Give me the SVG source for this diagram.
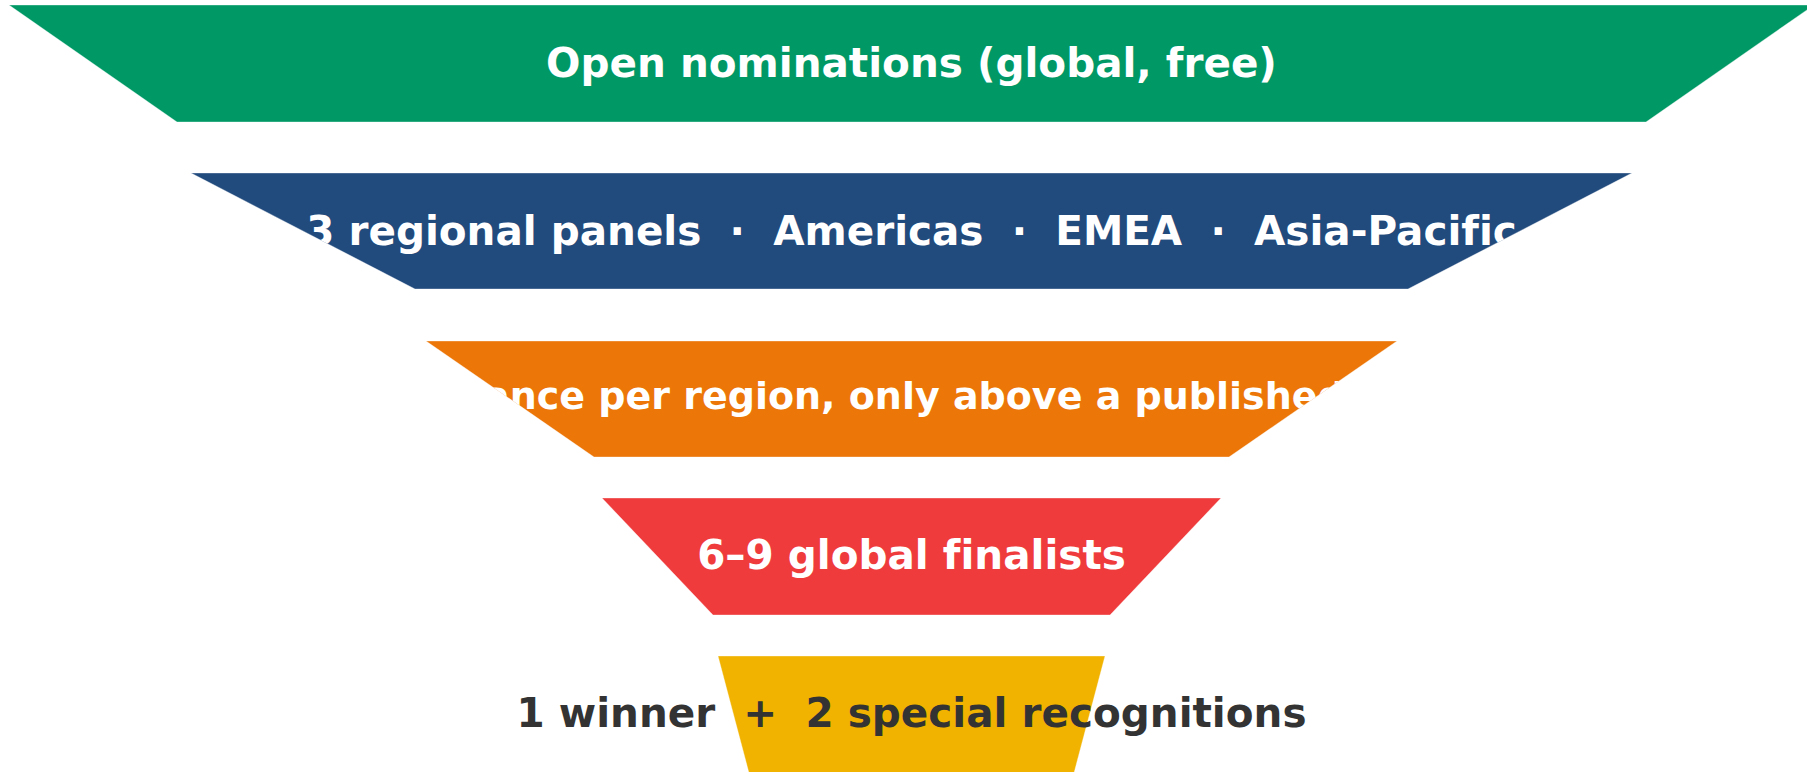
<svg xmlns="http://www.w3.org/2000/svg" width="1807" height="772" viewBox="0 0 1807 772">
  <style>
    .stage { stroke: #ffffff; stroke-opacity: 0.35; stroke-width: 1; }
    .label { font-family: "DejaVu Sans", "Liberation Sans", sans-serif; font-weight: bold; font-size: 40.5px; text-anchor: middle; fill: #ffffff; font-variant-ligatures: none; }
    .dark { fill: #333333; }
  </style>
  <defs>
    <clipPath id="clip-panels">
      <polygon points="191,173 1632,173 1408,289 415,289"/>
    </clipPath>
    <clipPath id="clip-region">
      <polygon points="426,341 1397,341 1229,457 594,457"/>
    </clipPath>
  </defs>
  <rect width="1807" height="772" fill="#ffffff"/>

  <g id="stage-nominations">
    <polygon class="stage" points="9,5 1814,5 1646,122 177,122" fill="#009966"/>
    <text class="label" x="911.5" y="77">Open nominations (global, free)</text>
  </g>

  <g id="stage-panels">
    <polygon class="stage" points="191,173 1632,173 1408,289 415,289" fill="#214a7d"/>
    <text class="label" x="911.5" y="245" clip-path="url(#clip-panels)" xml:space="preserve">3 regional panels  ·  Americas  ·  EMEA  ·  Asia-Pacific</text>
  </g>

  <g id="stage-region">
    <polygon class="stage" points="426,341 1397,341 1229,457 594,457" fill="#ec7608"/>
    <text class="label" x="484" y="409" style="text-anchor:start;font-size:38px" clip-path="url(#clip-region)">ance per region, only above a published</text>
  </g>

  <g id="stage-finalists">
    <polygon class="stage" points="602,498 1221,498 1110,615 713,615" fill="#ef3b3c"/>
    <text class="label" x="911.5" y="569">6–9 global finalists</text>
  </g>

  <g id="stage-winner">
    <polygon class="stage" points="718,656 1105,656 1074,773 749,773" fill="#f1b300"/>
    <text class="label dark" x="911.5" y="727" xml:space="preserve">1 winner  +  2 special recognitions</text>
  </g>

  <g id="connectors"></g>
</svg>
